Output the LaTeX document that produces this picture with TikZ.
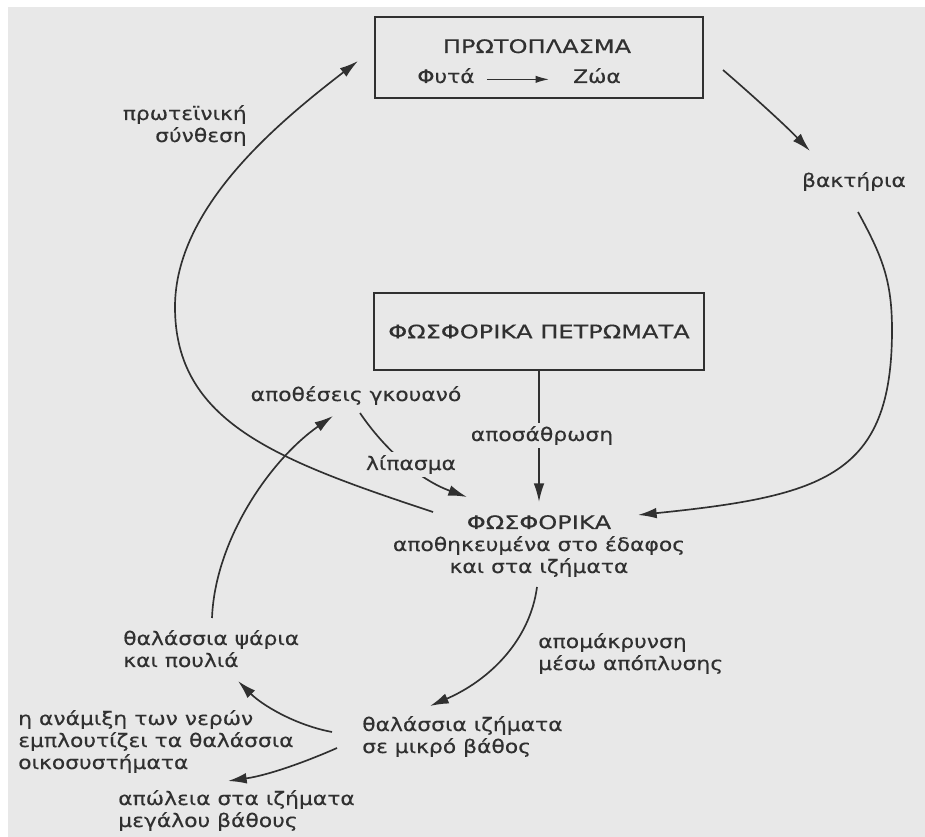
\documentclass[tikz,border=0pt]{standalone}
\usepackage{fontspec}
\setmainfont{DejaVu Sans}[FakeStretch=1.17, FakeBold=0.35]
\newfontfamily\capsfont{DejaVu Sans}[FakeStretch=1.29, FakeBold=0.35]
\usetikzlibrary{arrows.meta}
\definecolor{bg}{RGB}{232,232,232}
\definecolor{ink}{RGB}{48,48,48}
\begin{document}
\begin{tikzpicture}[x=0.75pt,y=-0.75pt,
  txt/.style={inner sep=0pt, text=ink, font=\fontsize{14pt}{16.5pt}\selectfont},
  lbl/.style={txt, fill=bg, inner sep=2pt},
  boxnode/.style={draw=ink, line width=1.3pt, inner sep=0pt, text=ink, font=\fontsize{14pt}{16.5pt}\selectfont\capsfont},
  conn/.style={draw=ink, line width=1.25pt, -{Latex[length=14pt,width=8pt]}},
  small/.style={draw=ink, line width=0.9pt, -{Latex[length=10pt,width=5.5pt]}},
]
\useasboundingbox (0,0) rectangle (925,837);
\fill[white] (0,0) rectangle (925,837);
\fill[bg] (8,7) rectangle (925,837);

% boxes
\node[boxnode, minimum width=246pt, minimum height=60.75pt] (proto) at (539,57.5) {};
\node[txt, anchor=base] (protot) at (537,53) {\capsfont ΠΡΩΤΟΠΛΑΣΜΑ};
\node[txt, anchor=base] (fyta) at (446,83) {Φυτά};
\node[txt, anchor=base] (zoa) at (597,83) {Ζώα};
\draw[small, shorten <=9pt, shorten >=18pt] (fyta.mid east) -- (zoa.mid west);

\node[boxnode, minimum width=247.5pt, minimum height=57.75pt] (rock) at (539,331.5) {ΦΩΣΦΟΡΙΚΑ ΠΕΤΡΩΜΑΤΑ};

% text nodes (base anchor = baseline of the last line)
\node[txt, anchor=base, align=center] (fos) at (539,573) {{\capsfont ΦΩΣΦΟΡΙΚΑ}\\αποθηκευμένα στο έδαφος\\και στα ιζήματα};
\node[txt, anchor=base east, align=right] (prot) at (247,142) {πρωτεϊνική\\σύνθεση};
\node[txt, anchor=base] (guano) at (356,401) {αποθέσεις γκουανό};
\node[txt, anchor=base] (bakt) at (854,187) {βακτήρια};
\node[txt, anchor=base west, align=left] (wash) at (538,670) {απομάκρυνση\\μέσω απόπλυσης};
\node[txt, anchor=base west, align=left] (fish) at (123,667) {θαλάσσια ψάρια\\και πουλιά};
\node[txt, anchor=base west, align=left] (mix) at (18,769) {η ανάμιξη των νερών\\εμπλουτίζει τα θαλάσσια\\οικοσυστήματα};
\node[txt, anchor=base west, align=left] (sed) at (362,753) {θαλάσσια ιζήματα\\σε μικρό βάθος};
\node[txt, anchor=base west, align=left] (loss) at (118,827) {απώλεια στα ιζήματα\\μεγάλου βάθους};

% connector end points
\coordinate (pStart) at (433,512);
\coordinate (pTip) at (358,61);
\coordinate (bStart) at (723,70);
\coordinate (bTip) at (810,151);
\coordinate (cStart) at (858,212);
\coordinate (cTip) at (638,515);
\coordinate (wTip) at (539,502);
\coordinate (dStart) at (537,587);
\coordinate (dTip) at (430,706);
\coordinate (fStart) at (332,732);
\coordinate (fTip) at (238,681);
\coordinate (lStart) at (337,748);
\coordinate (lTip) at (228,781);
\coordinate (gStart) at (212,618);
\coordinate (gTip) at (333,416);
\coordinate (fertStart) at (360,413);
\coordinate (fertTip) at (467,497);

% connectors
\draw[conn] (pStart) .. controls (276,460) and (175,422) .. (175,307) .. controls (175,207) and (279,122) .. (pTip);
\draw[conn] (bStart) .. controls (752,95) and (785,125) .. (bTip);
\draw[conn] (cStart) .. controls (882,256) and (892,280) .. (892,330) .. controls (892,475) and (825,496) .. (cTip);
\draw[conn] (rock.south) -- (wTip);
\draw[conn] (dStart) .. controls (530,640) and (490,680) .. (dTip);
\draw[conn] (fStart) .. controls (295,725) and (262,705) .. (fTip);
\draw[conn] (lStart) .. controls (310,760) and (270,775) .. (lTip);
\draw[conn] (gStart) .. controls (215,540) and (270,460) .. (gTip);
\draw[conn] (fertStart) .. controls (385,450) and (420,480) .. (fertTip);

% labels on connectors
\node[lbl, anchor=base] (weath) at (542,441) {αποσάθρωση};
\node[lbl, anchor=base] (fert) at (411,470) {λίπασμα};
\end{tikzpicture}
\end{document}
